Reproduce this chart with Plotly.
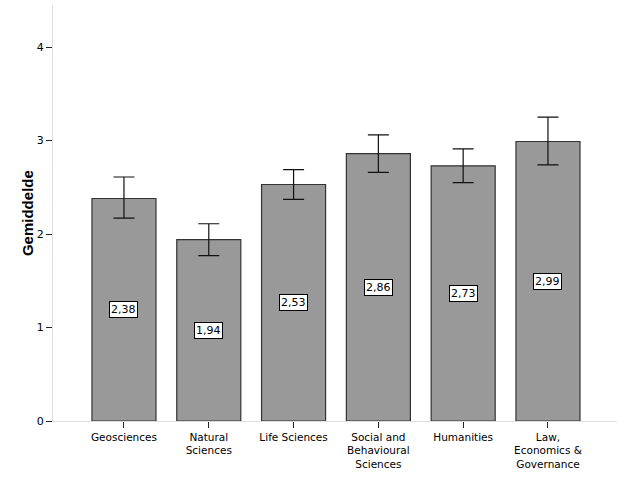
import plotly.graph_objects as go

categories = ["Geosciences", "Natural<br>Sciences", "Life Sciences",
              "Social and<br>Behavioural<br>Sciences", "Humanities",
              "Law,<br>Economics &<br>Governance"]
means = [2.38, 1.94, 2.53, 2.86, 2.73, 2.99]
ci_upper = [2.61, 2.11, 2.69, 3.06, 2.91, 3.25]
ci_lower = [2.17, 1.77, 2.37, 2.66, 2.55, 2.74]
y_ticks = [0, 1, 2, 3, 4]

xs = list(range(len(categories)))
err_plus = [u - m for u, m in zip(ci_upper, means)]
err_minus = [m - l for m, l in zip(means, ci_lower)]

FONT = "DejaVu Sans"

fig = go.Figure()
fig.add_trace(go.Bar(
    x=xs, y=means, width=0.755,
    marker=dict(color="#999999", line=dict(color="#333333", width=1.2)),
    error_y=dict(type="data", symmetric=False, array=err_plus, arrayminus=err_minus,
                 color="#111111", thickness=1.2, width=10.5),
    hoverinfo="skip",
))

for x, m in zip(xs, means):
    fig.add_annotation(x=x, y=m / 2, xref="x", yref="y",
                       text=f"{m:.2f}".replace(".", ","), showarrow=False,
                       font=dict(family=FONT, size=11, color="black"),
                       bgcolor="white", bordercolor="black", borderwidth=1, borderpad=1)

fig.add_annotation(x=-0.046, xref="paper", xanchor="center",
                   y=0.5, yref="paper", yanchor="middle", text="<b>Gemiddelde</b>",
                   textangle=-90, showarrow=False,
                   font=dict(family="Liberation Sans", size=15, color="black"))

fig.update_layout(
    width=626, height=501,
    margin=dict(l=53, r=9, t=5, b=80, autoexpand=False),
    paper_bgcolor="white", plot_bgcolor="white",
    showlegend=False,
    font=dict(family=FONT, size=11, color="black"),
)
fig.update_xaxes(range=[-0.837, 5.814], tickmode="array", tickvals=xs,
                 ticktext=categories, automargin=False,
                 tickfont=dict(family=FONT, size=10.5),
                 showgrid=False, zeroline=False, showline=True, linecolor="#dddddd",
                 linewidth=1, ticks="outside", ticklen=6, tickcolor="#222222", tickwidth=1)
fig.update_yaxes(range=[0, 4.45], tickmode="array", tickvals=y_ticks,
                 ticktext=[str(t) for t in y_ticks], automargin=False,
                 showgrid=False, zeroline=False, showline=True, linecolor="#dddddd",
                 linewidth=1, ticks="outside", ticklen=6, tickcolor="#222222", tickwidth=1,
                 tickfont=dict(family=FONT, size=11))

fig.write_html("out.html", config={"displayModeBar": False},
               post_script="document.body.style.margin='0';document.body.style.overflow='hidden';")
